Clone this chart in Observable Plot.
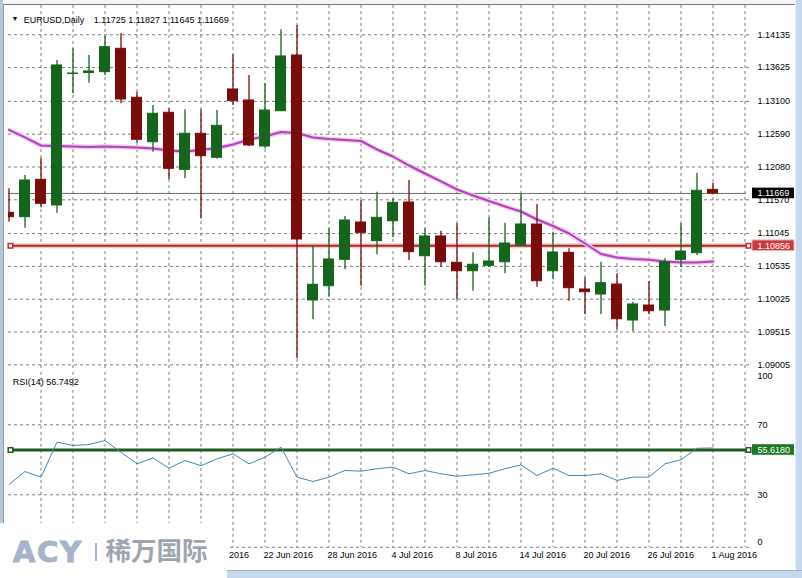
<!DOCTYPE html>
<html><head><meta charset="utf-8">
<script src="https://cdn.jsdelivr.net/npm/d3@7"></script>
<script src="https://cdn.jsdelivr.net/npm/@observablehq/plot@0.6"></script>
<style>
html,body{margin:0;padding:0;background:#fff;}
#wrap{position:relative;width:802px;height:578px;overflow:hidden;background:#fff;font-family:"Liberation Sans",Arial,sans-serif;}
.deco{position:absolute;}
</style></head><body><div id="wrap"></div>
<script>
// ---------------- data ----------------
const symbol = "EURUSD,Daily";
const days = ["2016-05-31","2016-06-01","2016-06-02","2016-06-03","2016-06-06","2016-06-07","2016-06-08","2016-06-09","2016-06-10",
"2016-06-13","2016-06-14","2016-06-15","2016-06-16","2016-06-17","2016-06-20","2016-06-21","2016-06-22","2016-06-23","2016-06-24",
"2016-06-27","2016-06-28","2016-06-29","2016-06-30","2016-07-01","2016-07-04","2016-07-05","2016-07-06","2016-07-07","2016-07-08",
"2016-07-11","2016-07-12","2016-07-13","2016-07-14","2016-07-15","2016-07-18","2016-07-19","2016-07-20","2016-07-21","2016-07-22",
"2016-07-25","2016-07-26","2016-07-27","2016-07-28","2016-07-29","2016-08-01"];
const open  = [1.11368,1.11300,1.11881,1.11482,1.13526,1.13541,1.13554,1.13917,1.13156,1.12465,1.12923,1.12036,1.12596,1.12223,1.13285,1.13114,1.12399,1.12947,1.13813,1.10005,1.10227,1.10637,1.11217,1.10927,1.11237,1.11528,1.10693,1.11000,1.10591,1.10460,1.10544,1.10600,1.10860,1.11186,1.10460,1.10746,1.10176,1.10098,1.10253,1.09694,1.09927,1.09849,1.10637,1.10740,1.11725];
const high  = [1.11741,1.11948,1.12217,1.13736,1.13917,1.13813,1.14109,1.14151,1.13243,1.13036,1.12985,1.12969,1.12969,1.12958,1.13824,1.13502,1.13373,1.14213,1.14280,1.10849,1.11119,1.11310,1.11559,1.11688,1.11586,1.11870,1.11119,1.11082,1.11197,1.10746,1.11290,1.11206,1.11663,1.11497,1.11066,1.10808,1.10358,1.10600,1.10420,1.09978,1.10300,1.10653,1.11197,1.11984,1.11827];
const low   = [1.11222,1.11129,1.11446,1.11362,1.13218,1.13383,1.13502,1.13062,1.12450,1.12310,1.11881,1.11897,1.11275,1.12204,1.13036,1.12399,1.12363,1.12943,1.09098,1.09705,1.10056,1.10482,1.10227,1.10715,1.10979,1.10627,1.10227,1.10522,1.10016,1.10149,1.10522,1.10420,1.10860,1.10211,1.10327,1.09994,1.09787,1.09787,1.09549,1.09523,1.09787,1.09601,1.10522,1.10704,1.11645];
const close = [1.11300,1.11870,1.11508,1.13658,1.13533,1.13565,1.13942,1.13129,1.12503,1.12907,1.12052,1.12596,1.12248,1.12720,1.13103,1.12414,1.12958,1.13798,1.10953,1.10249,1.10642,1.11248,1.11057,1.11290,1.11523,1.10756,1.11000,1.10600,1.10460,1.10560,1.10611,1.10891,1.11186,1.10305,1.10751,1.10196,1.10134,1.10274,1.09714,1.09943,1.09838,1.10600,1.10766,1.11710,1.11669];
const ma    = [1.12658,1.12539,1.12414,1.12406,1.12399,1.12391,1.12399,1.12391,1.12383,1.12368,1.12336,1.12321,1.12344,1.12375,1.12430,1.12507,1.12554,1.12624,1.12608,1.12539,1.12515,1.12500,1.12484,1.12352,1.12243,1.12103,1.11979,1.11855,1.11730,1.11637,1.11551,1.11466,1.11388,1.11264,1.11163,1.11046,1.10891,1.10728,1.10673,1.10650,1.10637,1.10611,1.10595,1.10595,1.10611];
const rsi   = [35.9,43.3,40.1,60.1,58.2,58.7,61.0,54.3,47.7,51.1,45.2,49.6,46.6,50.6,53.4,47.7,51.5,57.2,40.1,37.6,40.1,43.9,43.5,44.9,45.8,42.0,43.9,42.0,40.6,41.4,42.3,44.9,47.1,41.0,45.2,41.0,41.0,42.0,38.2,40.1,40.1,47.7,50.0,56.6,56.7492];
const priceTicks = [1.14135,1.13625,1.13100,1.12590,1.12080,1.11570,1.11045,1.10535,1.10025,1.09515,1.09005];
const rsiTicks = [100,70,30,0];
const rsiGrid = [70,30,0];
const redLevel = 1.10856;
const rsiLevel = 55.6180;
const rsiPeriod = 14;
// date labels every 4 bars (those left of 16 Jun are hidden under the logo in the reference)
const dateTicks = [12,16,20,24,28,32,36,40,44];
const gridIdx = [2,4,6,8,10,12,14,16,18,20,22,24,26,28,30,32,34,36,38,40,42,44,46];

// ---------------- layout ----------------
const W = 802, ML = 8, MR = 56, STEP = 16;
const X_DOMAIN = [-0.03125, 46.09375];
const xAt = px => X_DOMAIN[0] + (px - ML) / STEP;
const MAIN_H = 370, MAIN_MT = 5, MAIN_MB = 2;
const Y_DOMAIN = [1.08948, 1.14590];
const UPP = (Y_DOMAIN[1] - Y_DOMAIN[0]) / (MAIN_H - MAIN_MT - MAIN_MB);
const RSI_TOP = 370, RSI_H = 208, RSI_MT = 1.8, RSI_MB = 31.2;
const RPP = 100 / (RSI_H - RSI_MT - RSI_MB);

const GREEN = "#13661b", RED = "#7c0c0c", GRID = "#7d7d7d";
const FONT = '"Liberation Sans", Arial, sans-serif';
const candles = days.map((d, i) => ({i, date: d, open: open[i], high: high[i], low: low[i], close: close[i]}));
const col = d => d.close >= d.open ? GREEN : RED;
const maData = ma.map((v, i) => ({i, v}));
const rsiData = rsi.map((v, i) => ({i, v}));
const last = candles[candles.length - 1];
const fmtDate = d3.utcFormat("%-d %b %Y");
const parse = d3.utcParse("%Y-%m-%d");
const f5 = v => v.toFixed(5);

const wrap = document.getElementById("wrap");

const mainPlot = Plot.plot({
  width: W, height: MAIN_H,
  marginLeft: ML, marginRight: MR, marginTop: MAIN_MT, marginBottom: MAIN_MB,
  x: {domain: X_DOMAIN, axis: null},
  y: {domain: Y_DOMAIN, axis: null},
  style: {position: "absolute", left: "0px", top: "0px", background: "transparent", overflow: "visible", fontFamily: FONT, fontSize: "9px", color: "#000"},
  marks: [
    Plot.ruleX(gridIdx, {x: d => d, stroke: GRID, strokeDasharray: "3,3", strokeWidth: 1}),
    Plot.ruleY(priceTicks, {y: d => d, x1: () => X_DOMAIN[0], x2: () => xAt(751), stroke: GRID, strokeDasharray: "3,3", strokeWidth: 1}),
    Plot.ruleY([last.close], {y: d => d, stroke: "#6c6c6c", strokeWidth: 1}),
    Plot.ruleY([redLevel], {y: d => d, stroke: "#f6caca", strokeWidth: 5}),
    Plot.ruleY([redLevel], {y: d => d, stroke: "#a52a2a", strokeWidth: 2}),
    Plot.line(maData, {x: "i", y: "v", stroke: "#f3c8f1", strokeWidth: 4.5, clip: true}),
    Plot.line(maData, {x: "i", y: "v", stroke: "#b43fbb", strokeWidth: 2, clip: true}),
    Plot.ruleX(candles, {x: "i", y1: "low", y2: "high", stroke: col, strokeWidth: 1.3, clip: true}),
    Plot.rect(candles, {x1: d => d.i - 0.3125, x2: d => d.i + 0.3125, y1: "open", y2: "close", fill: col, stroke: col, strokeWidth: 1, clip: true}),
    Plot.dot([xAt(10), xAt(748)], {x: d => d, y: () => redLevel, symbol: "square", r: 2.6, stroke: "#b03030", strokeWidth: 1.5, fill: "#fff"}),
    Plot.text(priceTicks, {x: () => xAt(757), y: d => d, text: f5, textAnchor: "start", fill: "#000"}),
    Plot.rect([last.close], {x1: () => xAt(752), x2: () => xAt(794), y1: d => d - 5.3 * UPP, y2: d => d + 5.3 * UPP, fill: "#000"}),
    Plot.text([last.close], {x: () => xAt(757), y: d => d, text: f5, textAnchor: "start", fill: "#fff"}),
    Plot.rect([redLevel], {x1: () => xAt(752), x2: () => xAt(794), y1: d => d - 5.3 * UPP, y2: d => d + 5.3 * UPP, fill: "#cb3a3d", stroke: "#f2b0b0", strokeWidth: 1}),
    Plot.text([redLevel], {x: () => xAt(757), y: d => d, text: f5, textAnchor: "start", fill: "#fff"}),
    Plot.text(["▼"], {frameAnchor: "top-left", dx: 6.5, dy: 10.5, fontSize: 7, textAnchor: "middle", fill: "#000"}),
    Plot.text([symbol], {frameAnchor: "top-left", dx: 15.3, dy: 10.8, textAnchor: "start", fill: "#000"}),
    Plot.text([[last.open, last.high, last.low, last.close].map(f5).join(" ")], {frameAnchor: "top-left", dx: 85.3, dy: 10.8, textAnchor: "start", fill: "#000"})
  ]
});
wrap.appendChild(mainPlot);

const rsiPlot = Plot.plot({
  width: W, height: RSI_H,
  marginLeft: ML, marginRight: MR, marginTop: RSI_MT, marginBottom: RSI_MB,
  x: {domain: X_DOMAIN, axis: null},
  y: {domain: [0, 100], axis: null},
  style: {position: "absolute", left: "0px", top: RSI_TOP + "px", background: "transparent", overflow: "visible", fontFamily: FONT, fontSize: "9px", color: "#000"},
  marks: [
    Plot.ruleX(gridIdx, {x: d => d, stroke: GRID, strokeDasharray: "3,3", strokeWidth: 1}),
    Plot.ruleY(rsiGrid, {y: d => d, x1: () => X_DOMAIN[0], x2: () => xAt(751), stroke: GRID, strokeDasharray: "3,3", strokeWidth: 1}),
    Plot.ruleY([rsiLevel], {y: d => d, stroke: "#1f5c1f", strokeWidth: 3}),
    Plot.line(rsiData, {x: "i", y: "v", stroke: "#3f88bd", strokeWidth: 1, clip: true}),
    Plot.dot([xAt(10), xAt(748)], {x: d => d, y: () => rsiLevel, symbol: "square", r: 2.6, stroke: "#1f5c1f", strokeWidth: 1.5, fill: "#fff"}),
    Plot.text(rsiTicks, {x: () => xAt(757), y: d => d, text: d => String(d), textAnchor: "start", fill: "#000", lineAnchor: "middle"}),
    Plot.rect([rsiLevel], {x1: () => xAt(752), x2: () => xAt(794), y1: d => d - 5.3 * RPP, y2: d => d + 5.3 * RPP, fill: "#1e7a22"}),
    Plot.text([rsiLevel], {x: () => xAt(757), y: d => d, text: d => d.toFixed(4), textAnchor: "start", fill: "#fff"}),
    Plot.text([`RSI(${rsiPeriod}) ${rsi[rsi.length - 1].toFixed(4)}`], {frameAnchor: "top-left", dx: 4.3, dy: 6.6, textAnchor: "start", fill: "#000"}),
    Plot.text(dateTicks, {x: d => d, text: d => fmtDate(parse(days[d])), frameAnchor: "bottom", dy: 11, dx: -1.5, textAnchor: "start", fill: "#000"})
  ]
});
wrap.appendChild(rsiPlot);

// shift the 100 / 0 labels inside the panel like the terminal does
d3.select(rsiPlot).selectAll("text").each(function() {
  const t = this.textContent;
  const el = d3.select(this);
  if (t === "100") el.attr("transform", (el.attr("transform") || "") + " translate(0,4)");
  if (t === "0") el.attr("transform", (el.attr("transform") || "") + " translate(0,-5)");
});

// ---------------- window decoration ----------------
function deco(style) { const d = document.createElement("div"); d.className = "deco"; d.setAttribute("style", style); wrap.appendChild(d); }
deco("left:0;top:0;width:3px;height:578px;background:#b9c8d9;");
deco("left:3px;top:0;width:1px;height:578px;background:#8e9aa8;");
deco("left:3px;top:0;width:793px;height:4px;background:#f4f4f4;");
deco("left:3px;top:4px;width:793px;height:1px;background:#7a7a7a;");
deco("left:796px;top:0;width:6px;height:578px;background:#c6d8eb;");
deco("left:795px;top:0;width:1px;height:578px;background:#e9f0f8;");
deco("left:0;top:570px;width:802px;height:8px;background:#c6d8eb;border-top:1px solid #9fb3ca;box-sizing:border-box;");

// logo overlay
const logo = document.createElementNS("http://www.w3.org/2000/svg", "svg");
logo.setAttribute("width", 227); logo.setAttribute("height", 55);
logo.setAttribute("style", "position:absolute;left:0;top:523px;background:#fff;");
logo.innerHTML = `
<text x="13" y="39" font-family="'DejaVu Sans',sans-serif" font-weight="700" font-size="29" letter-spacing="1.6" fill="#a6b4cb" stroke="#a6b4cb" stroke-width="1">ACY</text>
<rect x="95" y="20" width="2" height="18" fill="#a6b4cb"/>
<text x="105.5" y="37" font-family="'Noto Sans CJK SC',sans-serif" font-weight="700" font-size="25.5" fill="#9ea5af">稀万国际</text>`;
wrap.appendChild(logo);
</script>
</body></html>
